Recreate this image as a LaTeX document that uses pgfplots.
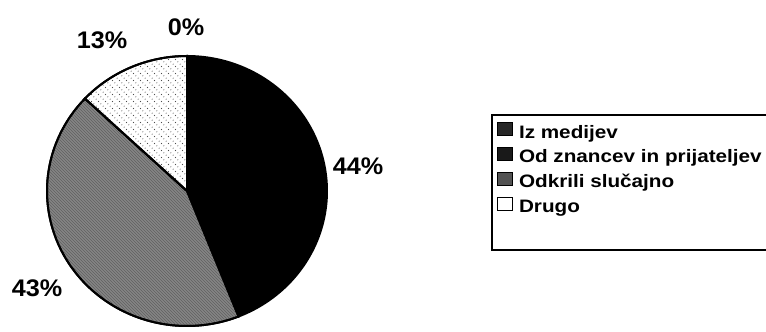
\documentclass[border=0pt]{standalone}
\usepackage{fontspec}
\setmainfont{Liberation Sans}
\newfontfamily\legfont{Liberation Sans}[FakeStretch=1.15]
\newfontfamily\labfont{Liberation Sans}[FakeStretch=1.05]
\usepackage{pgfplots}
\usepackage{pgfplotstable}
\pgfplotsset{compat=1.18}
\usetikzlibrary{patterns}

\pgfdeclarepatternformonly{diagdots}{\pgfqpoint{-1pt}{-1pt}}{\pgfqpoint{7pt}{7pt}}{\pgfqpoint{7pt}{7pt}}{%
  \pgfpathcircle{\pgfqpoint{0.5pt}{6.5pt}}{0.55pt}%
  \pgfpathcircle{\pgfqpoint{2.833pt}{4.167pt}}{0.55pt}%
  \pgfpathcircle{\pgfqpoint{5.167pt}{1.833pt}}{0.55pt}%
  \pgfusepath{fill}}

\pgfplotstableread[col sep=comma]{
cat,pct
Iz medijev,0
Od znancev in prijateljev,44
Odkrili slučajno,43
Drugo,13
}\piedata

\pgfplotstablegetelem{0}{pct}\of\piedata \let\pA\pgfplotsretval
\pgfplotstablegetelem{1}{pct}\of\piedata \let\pB\pgfplotsretval
\pgfplotstablegetelem{2}{pct}\of\piedata \let\pC\pgfplotsretval
\pgfplotstablegetelem{3}{pct}\of\piedata \let\pD\pgfplotsretval
\pgfmathsetmacro\aA{0}
\pgfmathsetmacro\aB{\aA+3.6*\pA}
\pgfmathsetmacro\aC{\aB+3.6*\pB}
\pgfmathsetmacro\aD{\aC+3.6*\pC}
\pgfmathsetmacro\aE{\aD+3.6*\pD}

\def\cx{187}\def\cy{141}\def\rx{140}\def\ry{135}

\begin{document}
\begin{tikzpicture}
\begin{axis}[
  width=766pt, height=332pt, scale only axis,
  xmin=0, xmax=766, ymin=0, ymax=332,
  hide axis, clip=false,
  legend image code/.code={\draw[line width=0.8pt,#1] (0pt,-1.5pt) rectangle (15pt,11.5pt);},
  legend cell align=left,
  legend style={draw=none, fill=none, at={(axis cs:497,210)}, anchor=north west,
    inner sep=0pt, row sep=4pt,
    font=\fontsize{18}{18}\legfont\bfseries,
    nodes={inner sep=0pt, text height=13pt, text depth=5pt},
    /tikz/every odd column/.append style={column sep=6pt}},
]
% slices (clockwise from 12 o'clock)
\addplot[forget plot, draw=black, line width=2pt, fill=black, domain=\aB:\aC, samples=90, variable=\t]
  ({\cx+\rx*sin(t)},{\cy+\ry*cos(t)}) -- (axis cs:\cx,\cy) -- cycle;
\addplot[forget plot, draw=black, line width=2pt, fill=black!48,
  postaction={pattern=north west lines, pattern color=black!62}, domain=\aC:\aD, samples=90, variable=\t]
  ({\cx+\rx*sin(t)},{\cy+\ry*cos(t)}) -- (axis cs:\cx,\cy) -- cycle;
\addplot[forget plot, draw=black, line width=2pt, fill=white,
  postaction={pattern=diagdots, pattern color=black!70}, domain=\aD:\aE, samples=60, variable=\t]
  ({\cx+\rx*sin(t)},{\cy+\ry*cos(t)}) -- (axis cs:\cx,\cy) -- cycle;

% legend
\addlegendimage{fill=black!85, draw=black}
\addlegendentry{Iz medijev}
\addlegendimage{fill=black!90, draw=black}
\addlegendentry{Od znancev in prijateljev}
\addlegendimage{fill=black!68, draw=black}
\addlegendentry{Odkrili slučajno}
\addlegendimage{fill=white, draw=black}
\addlegendentry{Drugo}

% percentage labels
\node[font=\fontsize{24}{24}\labfont\bfseries] at (axis cs:186,305) {\pA\%};
\node[font=\fontsize{24}{24}\labfont\bfseries] at (axis cs:102,292) {\pD\%};
\node[font=\fontsize{24}{24}\labfont\bfseries] at (axis cs:358,166) {\pB\%};
\node[font=\fontsize{24}{24}\labfont\bfseries] at (axis cs:37,44) {\pC\%};

\draw[line width=1.6pt] (axis cs:770,217) -- (axis cs:492,217) -- (axis cs:492,82) -- (axis cs:770,82);
\coordinate (bl) at (axis cs:0,0);
\coordinate (tr) at (axis cs:766,332);
\end{axis}
\pgfresetboundingbox
\useasboundingbox (bl) rectangle (tr);
\end{tikzpicture}
\end{document}
